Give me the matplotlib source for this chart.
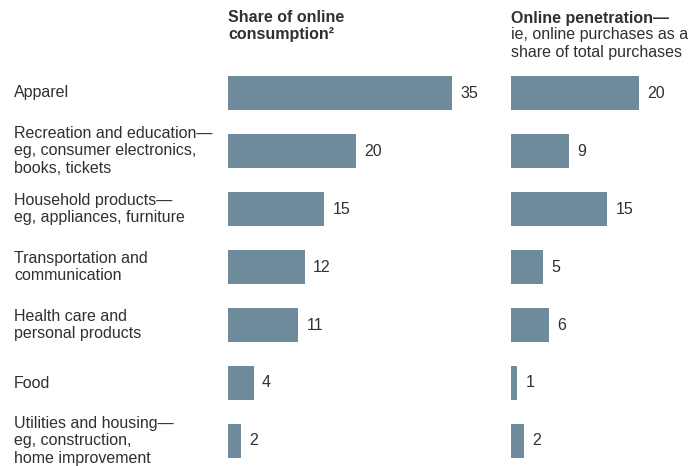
import matplotlib.pyplot as plt

plt.rcParams['font.family'] = ['Liberation Sans', 'DejaVu Sans']

categories = [
    "Apparel",
    "Recreation and education\u2014\neg, consumer electronics,\nbooks, tickets",
    "Household products\u2014\neg, appliances, furniture",
    "Transportation and\ncommunication",
    "Health care and\npersonal products",
    "Food",
    "Utilities and housing\u2014\neg, construction,\nhome improvement",
]
share_of_online = [35, 20, 15, 12, 11, 4, 2]
online_penetration = [20, 9, 15, 5, 6, 1, 2]

BAR_COLOR = "#6e8a9b"
TEXT_COLOR = "#303030"
W, H = 688, 466
FS = 11.5

fig = plt.figure(figsize=(W / 100, H / 100), dpi=100)

# pixel layout: rows centred at 93 + 58*i, bars start at x=228 and x=511
top, bottom = 64, 466
y_lo = (bottom - 93) / 58


def make_axes(left_px, width_px):
    ax = fig.add_axes([left_px / W, 0, width_px / W, (bottom - top) / H])
    ax.set_ylim(y_lo, -0.5)
    ax.axis("off")
    return ax


ax1 = make_axes(228, 6.4 * 40)
ax1.set_xlim(0, 40)
ax2 = make_axes(511, 6.4 * 25)
ax2.set_xlim(0, 25)

rows = list(range(len(categories)))
for ax, vals in [(ax1, share_of_online), (ax2, online_penetration)]:
    ax.barh(rows, vals, height=0.59, color=BAR_COLOR)
    for r, v in zip(rows, vals):
        ax.annotate(str(v), (v, r), xytext=(6, 0), textcoords="offset points",
                    va="center", ha="left", fontsize=FS, color=TEXT_COLOR)

# category labels on the left
for r, label in zip(rows, categories):
    y = 93 + 58 * r
    fig.text(14 / W, 1 - y / H, label, ha="left", va="center", fontsize=FS,
             color=TEXT_COLOR, linespacing=1.2)

# column headers
fig.text(228 / W, 1 - 18 / H, "Share of online", ha="left", va="center",
         fontsize=11.5, fontweight="bold", color=TEXT_COLOR)
fig.text(228 / W, 1 - 35 / H, "consumption\u00b2", ha="left", va="center",
         fontsize=11.5, fontweight="bold", color=TEXT_COLOR)
fig.text(511 / W, 1 - 18 / H, "Online penetration\u2014", ha="left", va="center",
         fontsize=11.5, fontweight="bold", color=TEXT_COLOR)
fig.text(511 / W, 1 - 35 / H, "ie, online purchases as a", ha="left",
         va="center", fontsize=FS, color=TEXT_COLOR)
fig.text(511 / W, 1 - 52 / H, "share of total purchases", ha="left",
         va="center", fontsize=FS, color=TEXT_COLOR)

fig.savefig("out.png", dpi=100, facecolor="white")
